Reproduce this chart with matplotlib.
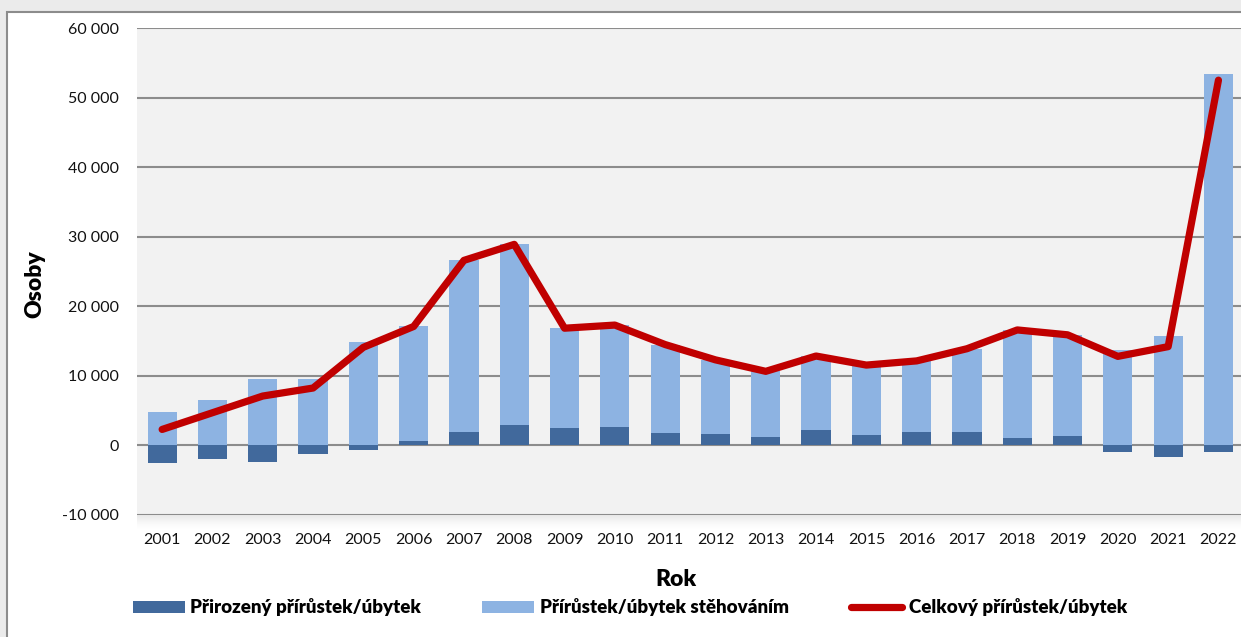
import matplotlib.pyplot as plt
import matplotlib.patches as mpatches
from matplotlib.lines import Line2D
from matplotlib.ticker import FuncFormatter
import numpy as np

plt.rcParams['font.family'] = ['Lato', 'DejaVu Sans']

roky = [str(r) for r in range(2001, 2023)]
prirozeny = [-2500, -1900, -2400, -1300, -700, 600, 2000, 2900, 2450, 2700, 1850,
             1600, 1250, 2150, 1500, 2000, 2000, 1000, 1300, -900, -1600, -900]
stehovani = [4800, 6600, 9500, 9550, 14800, 16500, 24600, 26000, 14400, 14600, 12650,
             10700, 9400, 10700, 10050, 10150, 11900, 15600, 14600, 13700, 15800, 53400]

c_dark = '#41699c'
c_light = '#8db3e2'
c_red = '#c00000'

W, H = 1241, 637
fig = plt.figure(figsize=(W / 100, H / 100), dpi=100)
fig.patch.set_facecolor('#ebebeb')

# bily ramecek grafu
fig.patches.append(mpatches.Rectangle((7 / W, -0.01), 1.0, (H - 12) / H + 0.01,
                                      transform=fig.transFigure, facecolor='white',
                                      edgecolor='#8c8c8c', linewidth=1.5, zorder=-2))

ax = fig.add_axes([137 / W, (H - 515) / H, 1106.6 / W, (515 - 28) / H])
ax.set_zorder(1)
ax.set_facecolor('#f2f2f2')

# stin pod plochou grafu
for i in range(14):
    fig.patches.append(mpatches.Rectangle((137 / W, (H - 516 - i) / H), 1106.6 / W, 1 / H,
                                          transform=fig.transFigure, facecolor='#9a9a9a',
                                          edgecolor='none', alpha=0.22 * (1 - i / 14) ** 1.5,
                                          zorder=-1))

x = np.arange(len(roky))
nat = np.array(prirozeny)
mig = np.array(stehovani)
celkem = nat + mig

ax.bar(x, nat, width=0.58, color=c_dark, zorder=2)
ax.bar(x, mig, width=0.58, bottom=np.maximum(nat, 0), color=c_light, zorder=2)
ax.plot(x, celkem, color=c_red, lw=5.2, solid_capstyle='round', solid_joinstyle='round', zorder=3)

ax.set_xlim(-0.5, len(roky) - 0.5)
ax.set_ylim(-10000, 60000)
ax.set_yticks(range(-10000, 60001, 10000))
ax.yaxis.set_major_formatter(FuncFormatter(lambda v, p: f"{int(v):,}".replace(",", " ")))
ax.set_xticks(x)
ax.set_xticklabels(roky)
ax.grid(axis='y', color='#8c8c8c', lw=1.5)
ax.set_axisbelow(True)
for s in ax.spines.values():
    s.set_visible(False)
ax.tick_params(length=0, labelsize=11.5, colors='#111111')
ax.tick_params(axis='x', pad=13)
ax.tick_params(axis='y', pad=13)

fig.text(35 / W, (H - 284) / H, 'Osoby', rotation=90, ha='center', va='center',
         fontsize=16.5, fontweight='heavy')
fig.text(676 / W, (H - 579) / H, 'Rok', ha='center', va='center',
         fontsize=16.5, fontweight='heavy')

# legenda
ly = (H - 607) / H
fig.patches.append(mpatches.Rectangle((133 / W, (H - 613) / H), 52 / W, 12 / H,
                                      transform=fig.transFigure, facecolor=c_dark))
fig.text(190 / W, ly, 'Přirozený přírůstek/úbytek', va='center', fontsize=13.5, fontweight='heavy')
fig.patches.append(mpatches.Rectangle((482 / W, (H - 613) / H), 52 / W, 12 / H,
                                      transform=fig.transFigure, facecolor=c_light))
fig.text(540 / W, ly, 'Přírůstek/úbytek stěhováním', va='center', fontsize=13.5, fontweight='heavy')
fig.lines.append(Line2D([851 / W, 902 / W], [ly, ly], transform=fig.transFigure,
                        color=c_red, lw=5.2, solid_capstyle='round'))
fig.text(909 / W, ly, 'Celkový přírůstek/úbytek', va='center', fontsize=13.5, fontweight='heavy')

fig.savefig('out.png', dpi=100, facecolor=fig.get_facecolor())
